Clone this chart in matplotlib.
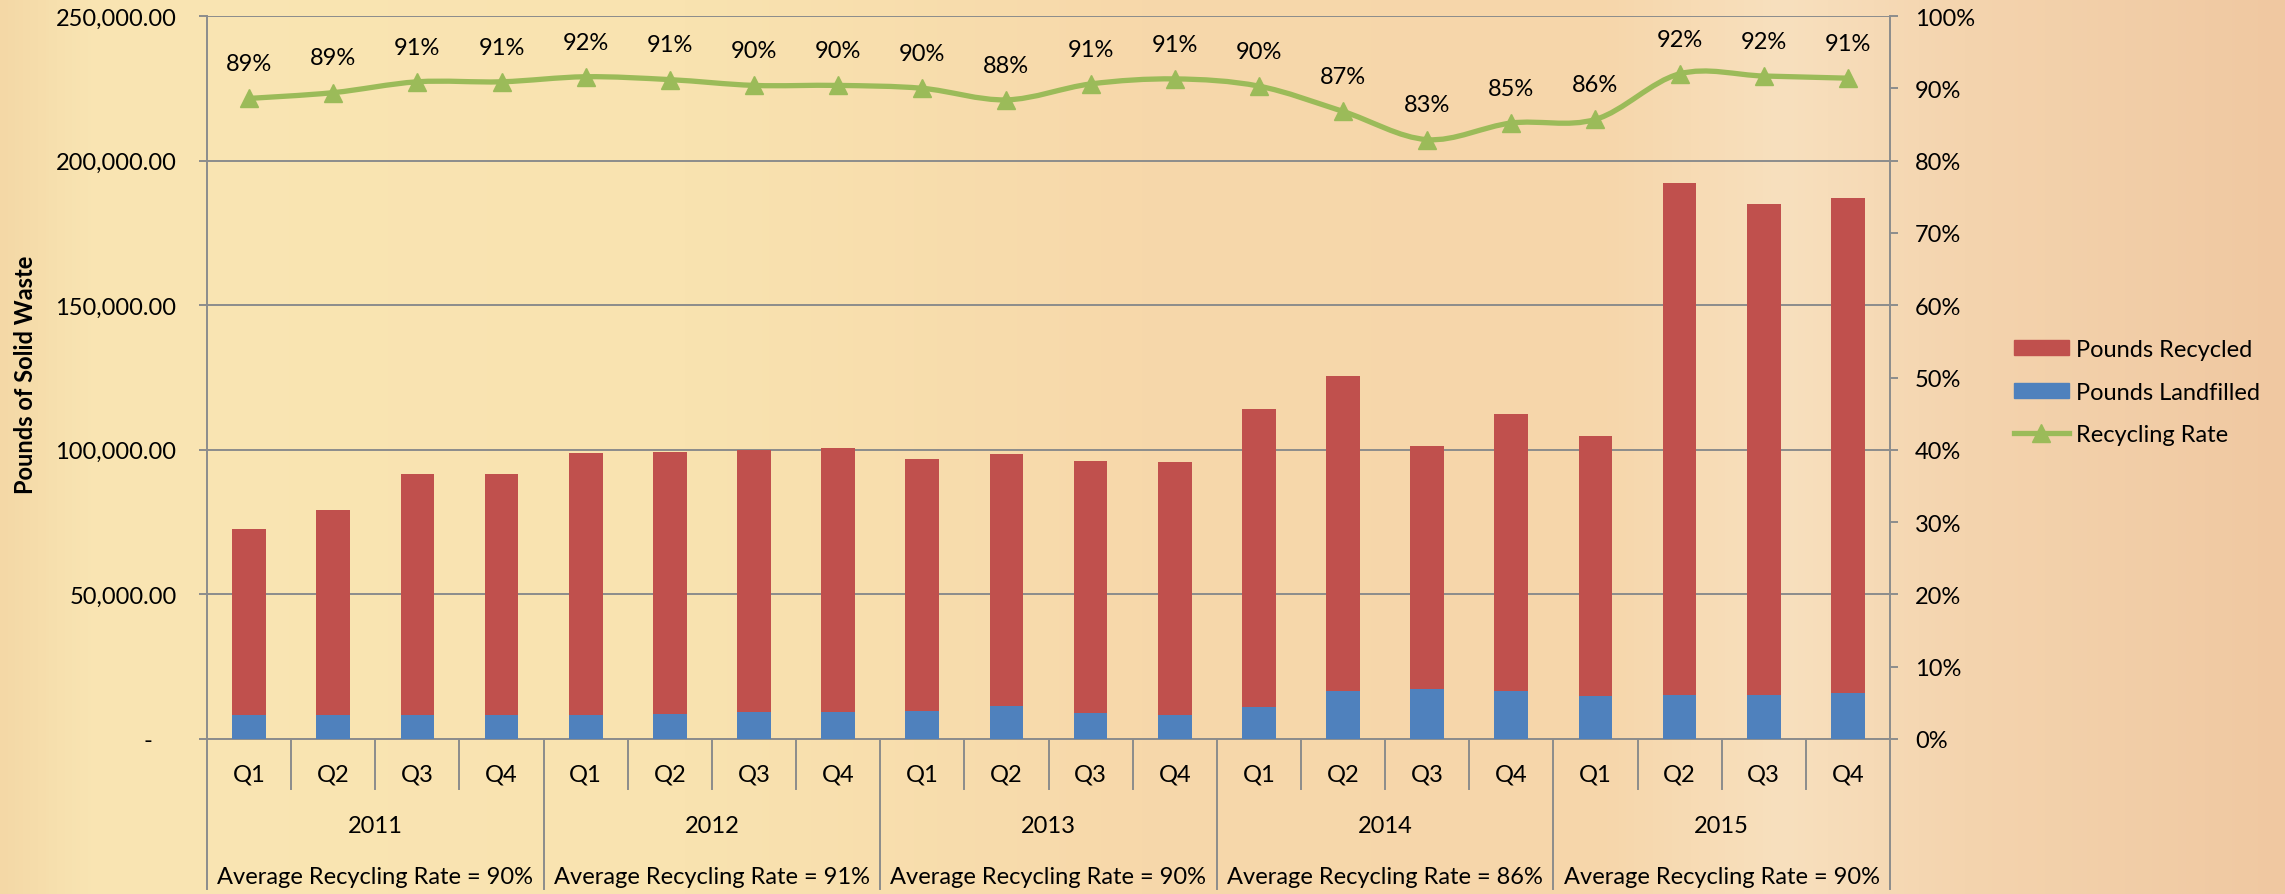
import numpy as np
import matplotlib
matplotlib.use("Agg")
import matplotlib.pyplot as plt
from matplotlib.path import Path
from matplotlib.patches import PathPatch, Patch
from matplotlib.lines import Line2D
from matplotlib.colors import to_rgb
from matplotlib.ticker import FuncFormatter, MultipleLocator

# ---------------- data ----------------
years = ["2011", "2012", "2013", "2014", "2015"]
quarters = ["Q1", "Q2", "Q3", "Q4"]
avg_rates = [90, 91, 90, 86, 90]

pounds_landfilled = [8320, 8320, 8320, 8320, 8320, 8770, 9470, 9470, 9710, 11440,
                     9120, 8320, 11100, 16640, 17340, 16640, 15010, 15360, 15360, 15950]
pounds_recycled = [64360, 70730, 83320, 83320, 90500, 90610, 90630, 91090, 87140, 87030,
                   87030, 87480, 103080, 108980, 83910, 95810, 89910, 176840, 169800, 171050]
recycling_rate = [88.6, 89.4, 90.9, 90.9, 91.6, 91.2, 90.4, 90.4, 90.0, 88.4,
                  90.6, 91.3, 90.3, 86.8, 82.9, 85.2, 85.7, 92.0, 91.7, 91.4]

RED = "#C0504D"
BLUE = "#4F81BD"
GREEN = "#9BBB59"
GRAY = "#8C8C8C"

plt.rcParams["font.family"] = ["Lato", "DejaVu Sans"]
FS = 17

W, H = 2285, 895
fig = plt.figure(figsize=(W / 100, H / 100), dpi=100)

# background gradient
bg = fig.add_axes([0, 0, 1, 1], zorder=-10)
stops_x = [0.0, 0.04, 0.30, 0.50, 0.70, 0.78, 0.86, 1.0]
stops_c = ["#F4D8A6", "#F9E5B3", "#F9E3B0", "#F7D8AA", "#F6D6AA", "#F8E0BE", "#F4D4AE", "#F0C8A1"]
xs = np.linspace(0, 1, 600)
rgb = np.array([to_rgb(c) for c in stops_c])
grad = np.stack([np.interp(xs, stops_x, rgb[:, k]) for k in range(3)], axis=-1)
bg.imshow(grad[np.newaxis, :, :], aspect="auto", extent=[0, 1, 0, 1])
bg.set_axis_off()

L, R = 207 / W, 1890 / W
B, T = 1 - 740 / H, 1 - 17 / H
ax = fig.add_axes([L, B, R - L, T - B])
ax.set_facecolor("none")

n = len(pounds_recycled)
x = np.arange(n)
bw = 0.40
ax.bar(x, pounds_landfilled, bw, color=BLUE, zorder=3)
ax.bar(x, pounds_recycled, bw, bottom=pounds_landfilled, color=RED, zorder=3)

ax.set_xlim(-0.5, n - 0.5)
ax.set_ylim(0, 250000)
ax.yaxis.set_major_locator(MultipleLocator(50000))
ax.yaxis.set_major_formatter(FuncFormatter(lambda v, p: "-    " if v == 0 else f"{v:,.2f}"))
ax.grid(axis="y", color=GRAY, lw=1.4, zorder=0)
ax.set_axisbelow(True)
ax.set_xticks([])
for s in ["top", "right"]:
    ax.spines[s].set_visible(False)
for s in ["left", "bottom"]:
    ax.spines[s].set_color(GRAY)
    ax.spines[s].set_linewidth(1.4)
ax.tick_params(axis="y", length=6, width=1.4, color=GRAY, labelsize=FS, pad=16)

# multi-level category axis
tr = ax.get_xaxis_transform()
axh = 740 - 17
for i in range(n + 1):
    long = (i % 4 == 0)
    y_end = -150 / axh if long else -50 / axh
    ax.plot([i - 0.5, i - 0.5], [0, y_end], transform=tr, color=GRAY, lw=1.4,
            clip_on=False, zorder=5)
for i in range(n):
    ax.text(i, -35 / axh, quarters[i % 4], transform=tr, ha="center", va="center", fontsize=FS)
for j, yr in enumerate(years):
    cx = j * 4 + 1.5
    ax.text(cx, -87 / axh, yr, transform=tr, ha="center", va="center", fontsize=FS)
    ax.text(cx, -138 / axh, f"Average Recycling Rate = {avg_rates[j]}%", transform=tr,
            ha="center", va="center", fontsize=FS)

# secondary axis
ax2 = ax.twinx()
ax2.set_facecolor("none")
ax2.set_ylim(0, 1)
ax2.yaxis.set_major_locator(MultipleLocator(0.1))
ax2.yaxis.set_major_formatter(FuncFormatter(lambda v, p: f"{v * 100:.0f}%"))
for s in ["top", "left", "bottom"]:
    ax2.spines[s].set_visible(False)
ax2.spines["right"].set_color(GRAY)
ax2.spines["right"].set_linewidth(1.4)
ax2.tick_params(axis="y", length=6, width=1.4, color=GRAY, labelsize=FS, pad=12)

# smoothed line (Catmull-Rom as cubic Bezier segments)
pts = np.column_stack([x, np.array(recycling_rate) / 100.0])
ext = np.vstack([pts[0], pts, pts[-1]])
verts = [tuple(pts[0])]
codes = [Path.MOVETO]
for i in range(n - 1):
    p0, p1, p2, p3 = ext[i], ext[i + 1], ext[i + 2], ext[i + 3]
    c1 = p1 + (p2 - p0) / 6.0
    c2 = p2 - (p3 - p1) / 6.0
    verts += [tuple(c1), tuple(c2), tuple(p2)]
    codes += [Path.CURVE4] * 3
ax2.add_patch(PathPatch(Path(verts, codes), fill=False, edgecolor=GREEN, lw=3.8,
                        capstyle="round", joinstyle="round", zorder=4))
ax2.plot(x, np.array(recycling_rate) / 100.0, ls="none", marker="^", ms=13,
         color=GREEN, zorder=5)
for i, r in enumerate(recycling_rate):
    ax2.annotate(f"{r:.0f}%", (i, r / 100.0), xytext=(0, 25), textcoords="offset points",
                 ha="center", va="center", fontsize=FS)

# y label
fig.text(26 / W, 1 - 375 / H, "Pounds of Solid Waste", rotation=90, ha="center", va="center",
         fontsize=17, fontweight="bold")

# legend
handles = [Patch(color=RED, label="Pounds Recycled"),
           Patch(color=BLUE, label="Pounds Landfilled"),
           Line2D([0], [0], color=GREEN, lw=3.8, marker="^", ms=13, label="Recycling Rate")]
fig.legend(handles=handles, loc="center left", bbox_to_anchor=(1993 / W, 1 - 393 / H),
           frameon=False, fontsize=FS, handlelength=2.3, handleheight=0.6,
           handletextpad=0.3, labelspacing=0.9)

fig.savefig("out.png", dpi=100)
